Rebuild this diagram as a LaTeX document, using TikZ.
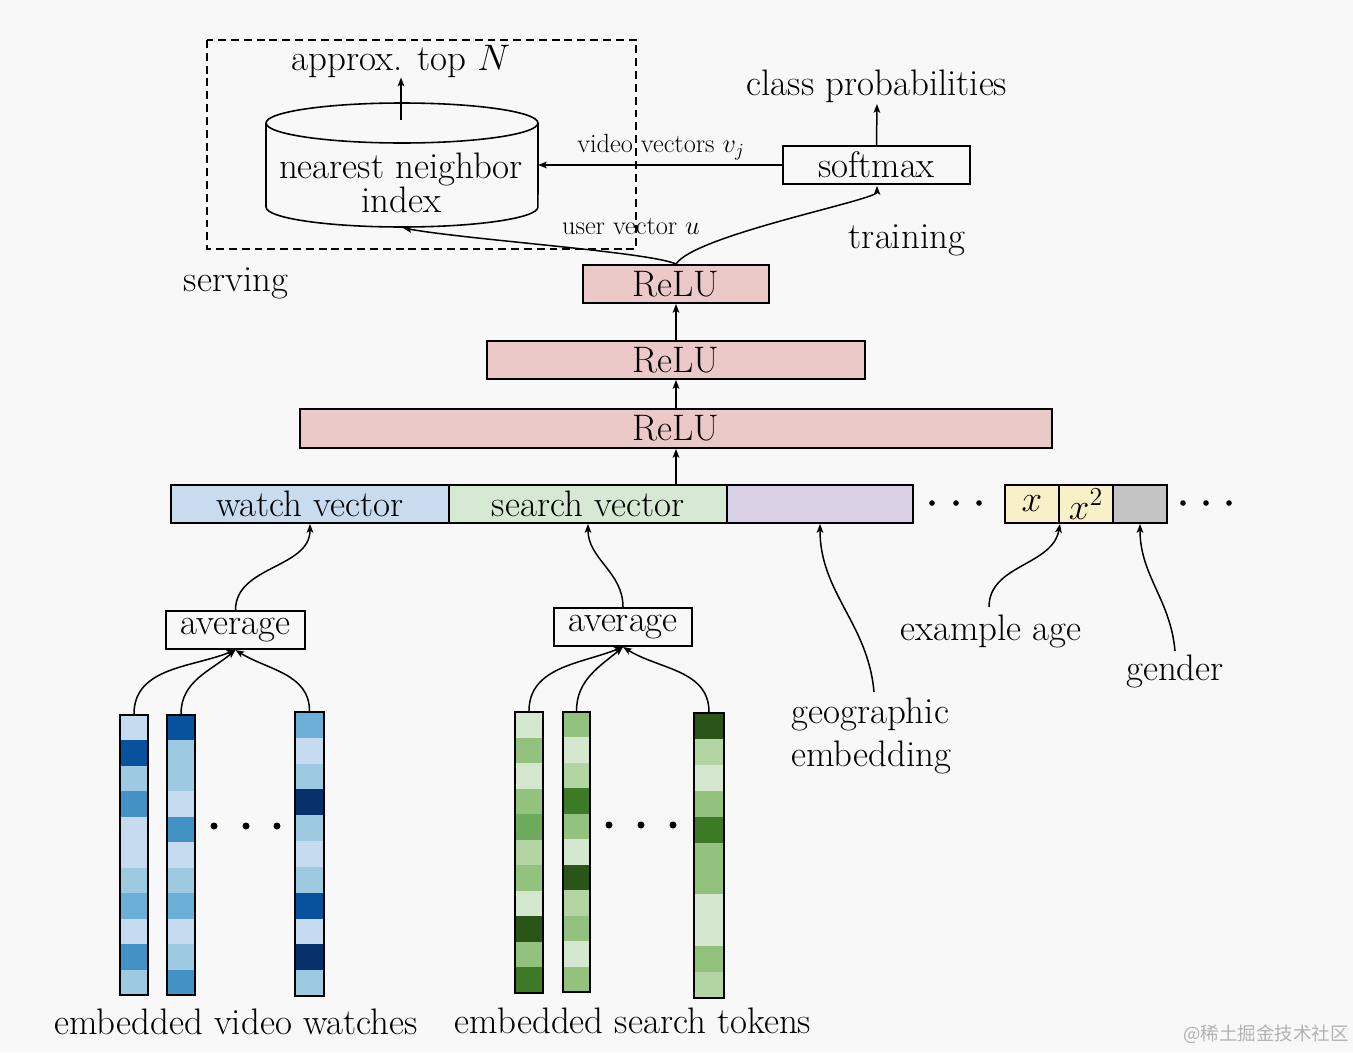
\RequirePackage{fix-cm}
\documentclass[tikz,border=0pt]{standalone}
\usepackage{fontspec}
\newfontfamily\cjkfont{Noto Sans CJK SC}
\usetikzlibrary{arrows.meta}
\definecolor{bgc}{HTML}{F8F8F8}
\definecolor{reluc}{HTML}{EBC9C9}
\definecolor{watchc}{HTML}{C9DCEF}
\definecolor{searchc}{HTML}{D6E9D3}
\definecolor{geoc}{HTML}{D9D0E6}
\definecolor{agec}{HTML}{FAF0C8}
\definecolor{genc}{HTML}{C4C4C4}
\definecolor{b1}{HTML}{C6DBEF}
\definecolor{b2}{HTML}{9ECAE1}
\definecolor{b3}{HTML}{6BAED6}
\definecolor{b4}{HTML}{4292C6}
\definecolor{b5}{HTML}{08519C}
\definecolor{b6}{HTML}{08306B}
\definecolor{g1}{HTML}{D5E8CF}
\definecolor{g2}{HTML}{B2D5A3}
\definecolor{g3}{HTML}{92C27E}
\definecolor{g4}{HTML}{6DAA5C}
\definecolor{g5}{HTML}{3C7A25}
\definecolor{g6}{HTML}{2B5418}
\newcommand\bigf{\fontsize{21}{19}\selectfont}
\newcommand\geof{\fontsize{21}{24}\selectfont}
\newcommand\smallf{\fontsize{15}{17}\selectfont}
\newcommand\colvec[6]{% name, xl, xr, ytop, ybot, colours
  \foreach \cc [count=\ii from 0] in {#6} {
    \fill[\cc] (#2,{-(#4+\ii*(#5-#4)/11)}) rectangle (#3,{-(#4+(\ii+1)*(#5-#4)/11)});
  }
  \node[draw, line width=1.1pt, inner sep=0pt, minimum width={(#3-#2)*0.02cm}, minimum height={(#5-#4)*0.02cm}] (#1) at ({(#2+#3)/2},{-(#4+#5)/2}) {};
}
\begin{document}
\begin{tikzpicture}[x=0.02cm,y=0.02cm,
  box/.style={draw, line width=1.1pt, inner sep=0pt, font=\bigf},
  arr/.style={-{Stealth[length=5pt,width=3.8pt,inset=1.2pt]}, line width=0.85pt},
  lab/.style={font=\bigf, inner sep=0pt},
  slab/.style={font=\smallf, inner sep=0pt}]
\fill[bgc] (0,0) rectangle (1353,-1052);
\useasboundingbox (0,0) rectangle (1353,-1052);

% serving box
\draw[line width=0.9pt, dash pattern=on 4.5pt off 2.8pt] (207,-40) rectangle (636,-249);
\node[lab] (topn) at (401,-61) {approx. top $N$};
% cylinder
\draw[line width=0.9pt, fill=bgc] (266,-123) -- (266,-207) arc[start angle=180, end angle=360, x radius=2.72cm, y radius=0.4cm] -- (538,-123);
\draw[line width=0.9pt] (402,-123) ellipse [x radius=2.72cm, y radius=0.4cm];
\node[lab, align=center] (cyl) at (401,-183) {nearest neighbor\\index};
\coordinate (cylN) at (401,-120);
\coordinate (cylE) at (538,-165);
\coordinate (cylS) at (403,-228);
\draw[arr] (cylN) -- (topn.south);

% softmax
\node[box, minimum width=3.74cm, minimum height=0.76cm] (soft) at (876.5,-165) {softmax};
\node[lab] (cprob) at (877,-86) {class probabilities};
\coordinate (cprobS) at (877,-104);
\draw[arr] (soft.north) -- (cprobS);
\draw[arr] (soft.west) -- (cylE);
\node[slab] (vv) at (661,-147) {video vectors $v_j$};

% ReLUs
\node[box, fill=reluc, minimum width=3.72cm, minimum height=0.76cm] (r1) at (676,-284) {ReLU};
\node[box, fill=reluc, minimum width=7.56cm, minimum height=0.76cm] (r2) at (676,-360) {ReLU};
\node[box, fill=reluc, minimum width=15.04cm, minimum height=0.78cm] (r3) at (676,-428.5) {ReLU};
\draw[arr] (r2.north) -- (r1.south);
\draw[arr] (r3.north) -- (r2.south);

\node[slab] (uv) at (631,-226) {user vector $u$};
\node[lab] (train) at (907,-240) {training};
\node[lab] (serv) at (236,-283) {serving};
\coordinate (softS) at (877,-186);
\draw[arr] (r1.north) .. controls (695,-235) and (877,-200) .. (softS);
\draw[arr] (r1.north) .. controls (650,-252) and (470,-240) .. (cylS);

% input layer
\node[box, fill=watchc, minimum width=5.56cm, minimum height=0.76cm] (watch) at (310,-504) {watch vector};
\node[box, fill=searchc, minimum width=5.56cm, minimum height=0.76cm] (search) at (588,-504) {search vector};
\node[box, fill=geoc, minimum width=3.72cm, minimum height=0.76cm] (geo) at (820,-504) {};
\node[box, fill=agec, minimum width=1.08cm, minimum height=0.76cm, text depth=-1pt] (xb) at (1032,-504) {$x$};
\node[box, fill=agec, minimum width=1.08cm, minimum height=0.76cm] (x2b) at (1086,-504) {$x^2$};
\node[box, fill=genc, minimum width=1.08cm, minimum height=0.76cm] (gb) at (1140,-504) {};
\coordinate (inTop) at (676,-485);
\draw[arr] (inTop) -- (r3.south);
\foreach \xx in {932,956,979,1183,1206,1229} \fill (\xx,-503) circle[radius=2.8];

% averages
\node[box, minimum width=2.78cm, minimum height=0.76cm] (avg1) at (235.5,-630) {average};
\node[box, minimum width=2.76cm, minimum height=0.76cm] (avg2) at (623,-627) {average};
\draw[arr] (avg1.north) to[out=90, in=-90] (watch.south);
\draw[arr] (avg2.north) to[out=90, in=-90] (search.south);

% side labels
\node[font=\geof, inner sep=0pt, align=left, anchor=west] (geolab) at (791,-736) {geographic\\embedding};
\node[lab] (agelab) at (991,-631) {example age};
\node[lab] (genlab) at (1175,-671) {gender};
\coordinate (geoS) at (874,-692);
\coordinate (ageS) at (989,-607);
\coordinate (genS) at (1175,-651);
\draw[arr] (geoS) to[out=95, in=-90] (geo.south);
\draw[arr] (ageS) to[out=90, in=-100] (xb.south east);
\draw[arr] (genS) to[out=95, in=-90] (gb.south);

% blue columns
\colvec{bc1}{120}{148}{715}{995}{b1,b5,b2,b4,b1,b1,b2,b3,b1,b4,b2}
\colvec{bc2}{167}{195}{715}{995}{b5,b2,b2,b1,b4,b1,b2,b3,b1,b2,b4}
\colvec{bc3}{295}{324}{712}{996}{b3,b1,b2,b6,b2,b1,b2,b5,b1,b6,b2}
\foreach \xx in {214,246,277} \fill (\xx,-826) circle[radius=3.5];
\draw[arr] (bc1.north) to[out=90, in=202] (avg1.south);
\draw[arr] (bc2.north) to[out=90, in=220] (avg1.south);
\draw[arr] (bc3.north) to[out=90, in=-32] (avg1.south);

% green columns
\colvec{gc1}{515}{543}{712}{993}{g1,g3,g1,g3,g4,g2,g3,g1,g6,g3,g5}
\colvec{gc2}{563}{590}{712}{992}{g3,g1,g2,g5,g3,g1,g6,g2,g3,g1,g3}
\colvec{gc3}{694}{724}{713}{998}{g6,g2,g1,g3,g5,g3,g3,g1,g1,g3,g2}
\foreach \xx in {609,641,673} \fill (\xx,-825) circle[radius=3.5];
\draw[arr] (gc1.north) to[out=90, in=202] (avg2.south);
\draw[arr] (gc2.north) to[out=90, in=220] (avg2.south);
\draw[arr] (gc3.north) to[out=90, in=-32] (avg2.south);

\node[lab] (evw) at (236,-1022) {embedded video watches};
\node[lab] (est) at (633,-1021) {embedded search tokens};

\node[font=\cjkfont\fontsize{10.5}{12}\selectfont, text=black!30, inner sep=0pt] (wm) at (1266,-1034) {@稀土掘金技术社区};
\end{tikzpicture}
\end{document}
